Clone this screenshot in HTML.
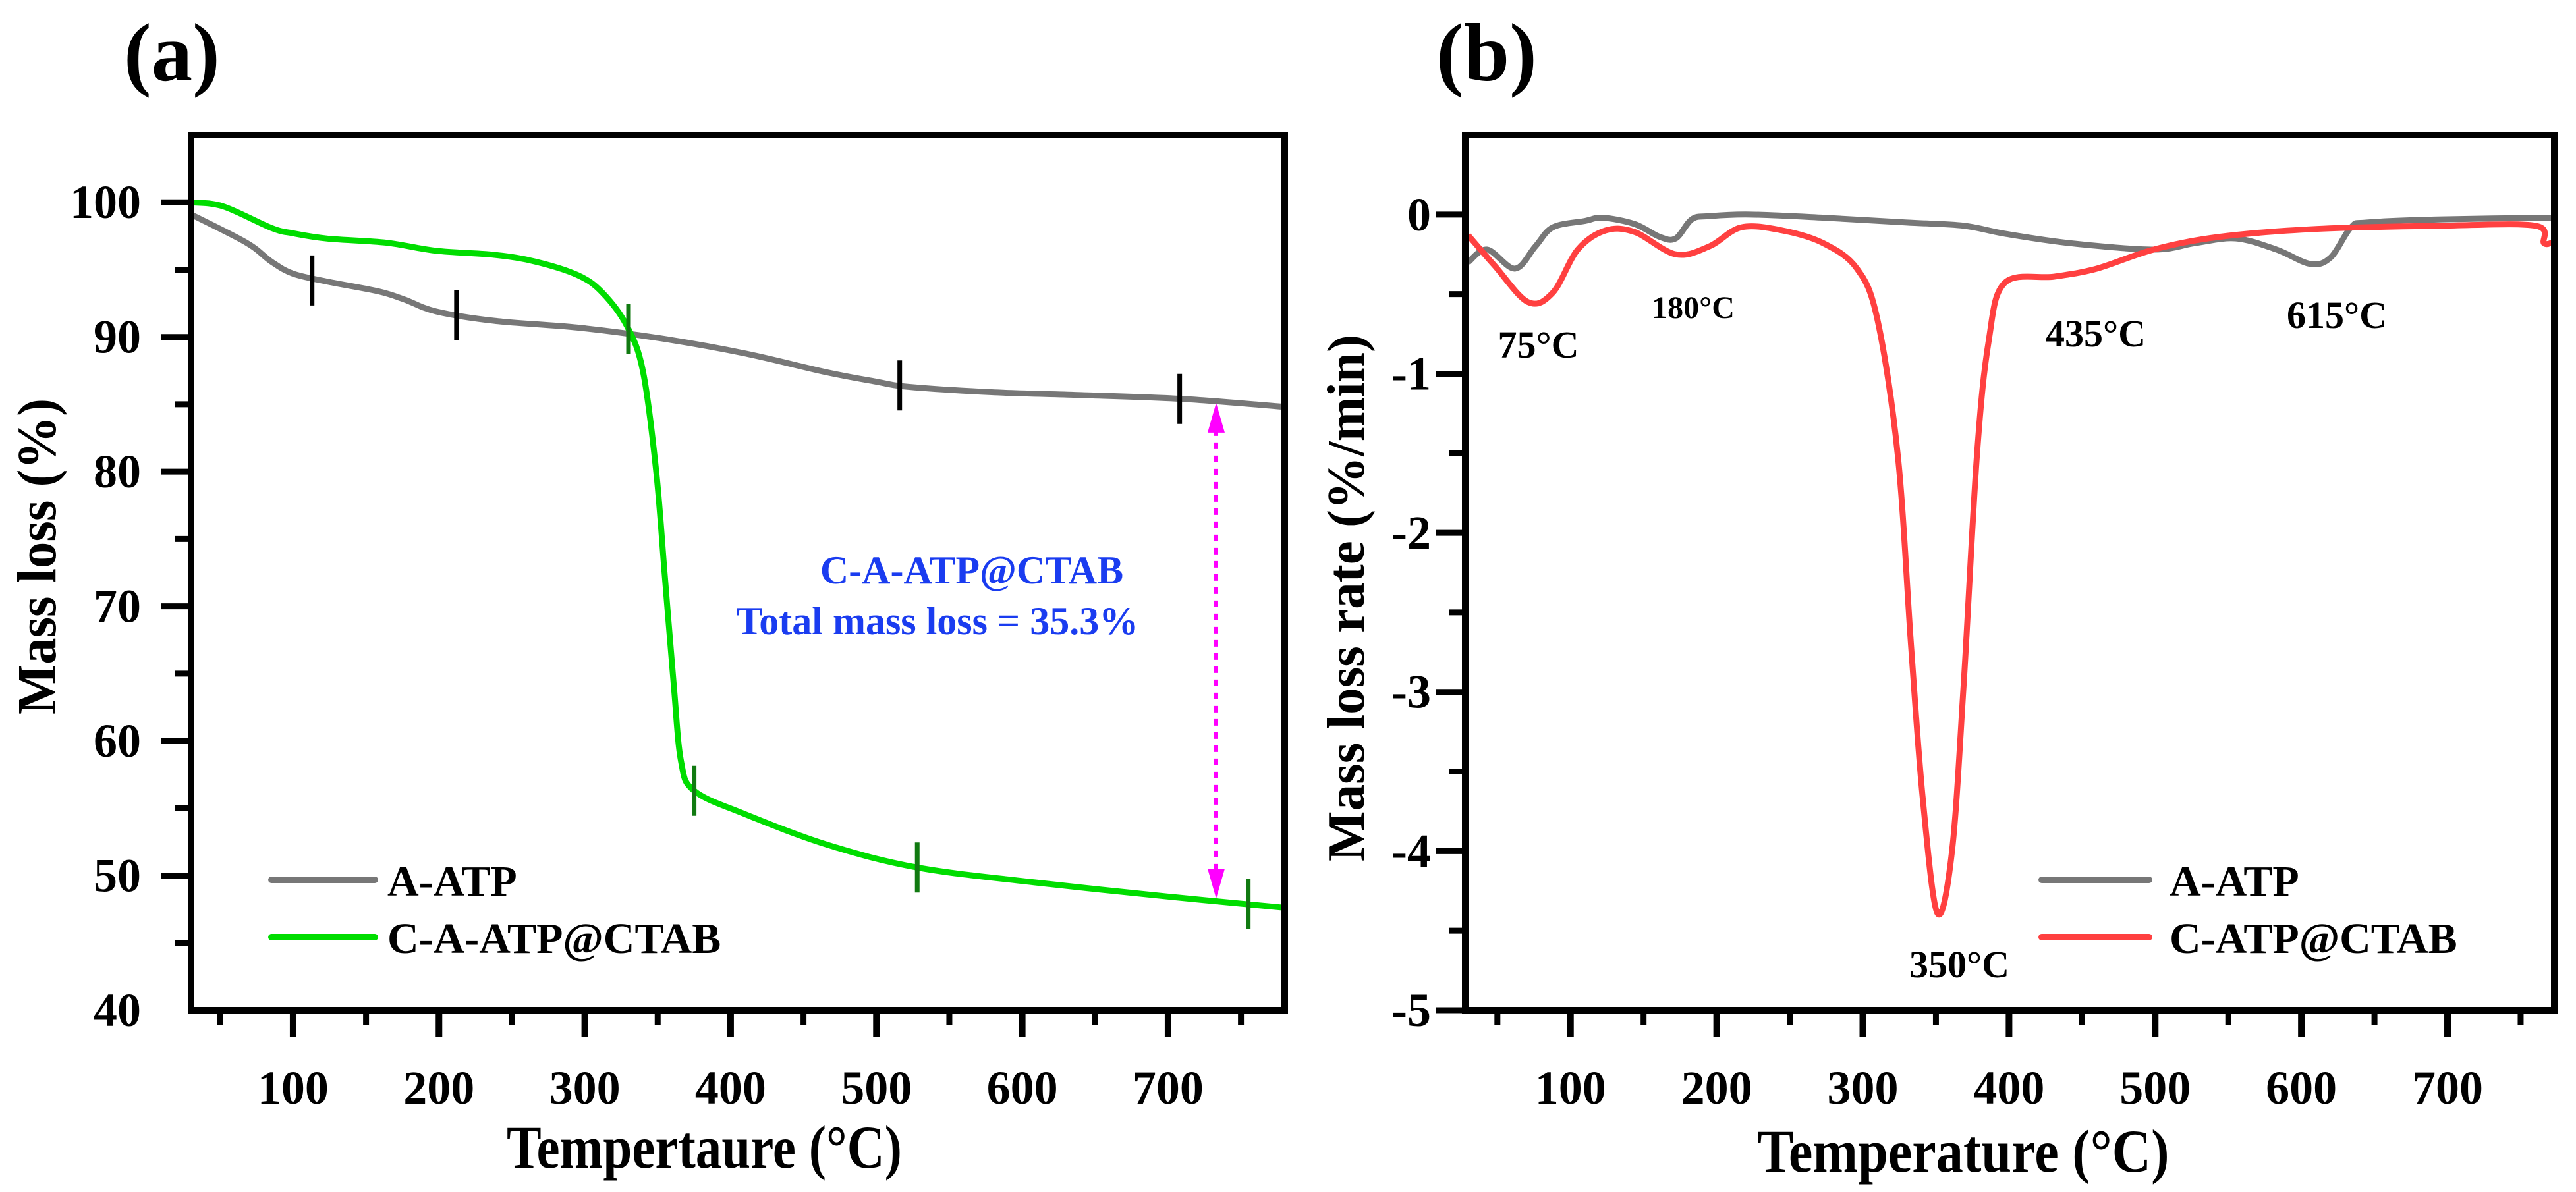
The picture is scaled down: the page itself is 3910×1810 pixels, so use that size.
<!DOCTYPE html>
<html><head><meta charset="utf-8"><style>
html,body{margin:0;padding:0;background:#fff;}
svg{display:block;font-family:"Liberation Serif",serif;font-weight:bold;}
</style></head><body>
<svg id="fig" width="3910" height="1810" viewBox="0 0 3910 1810" xmlns="http://www.w3.org/2000/svg">
<rect x="0" y="0" width="3910" height="1810" fill="#fff"/>
</svg>
<script>
// Panel (a) TGA data
const aTemp = [30,68,85,100,124,158,176,198,238,295,352,409,465,499,522,579,636,710,781];
const aMass = [99.1,97,95.6,94.7,94.1,93.4,92.8,91.9,91.2,90.7,89.9,88.8,87.4,86.7,86.3,85.9,85.7,85.4,84.8];
const cTemp = [30,52,85,100,124,164,198,238,266,295,312,329,340,349,355,361,366,375,409,466,528,608,704,781];
const cMass = [100,99.7,98.1,97.7,97.3,97.0,96.4,96.1,95.6,94.6,93.3,90.8,87.4,80,72.1,64.2,58.5,56.3,54.6,52.3,50.6,49.5,48.4,47.6];
const aMarkT = [113,212,516,708];
const aMarkV = [94.2,91.6,86.4,85.4];
const cMarkT = [330,375,528,755];
const cMarkV = [90.6,56.3,50.6,47.9];
const aXTicks = [100,200,300,400,500,600,700];
const aYTicks = [40,50,60,70,80,90,100];
// Panel (b) DTG data
const bTempA = [30,43,62,76,88,110,122,144,161,172,183,195,223,273,330,369,397,442,499,527,555,583,606,620,634,645,696,773];
const bRateA = [-0.3,-0.22,-0.34,-0.2,-0.08,-0.04,-0.02,-0.06,-0.14,-0.15,-0.03,-0.01,0,-0.02,-0.05,-0.07,-0.12,-0.18,-0.22,-0.18,-0.15,-0.22,-0.31,-0.27,-0.08,-0.05,-0.03,-0.02];
const bTempC = [30,48,71,88,105,124,144,172,195,217,245,273,296,310,324,333,341,351,361,369,378,386,397,431,460,499,544,611,696,760,766,773];
const bRateC = [-0.13,-0.32,-0.55,-0.49,-0.22,-0.1,-0.11,-0.25,-0.2,-0.08,-0.1,-0.18,-0.34,-0.66,-1.52,-2.71,-3.67,-4.39,-4.0,-2.95,-1.52,-0.8,-0.43,-0.39,-0.34,-0.22,-0.14,-0.09,-0.07,-0.07,-0.18,-0.17];
const bXTicks = [100,200,300,400,500,600,700];
const bYTicks = [-5,-4,-3,-2,-1,0];
const bYLabels = ["-5","-4","-3","-2","-1","0"];

const NS="http://www.w3.org/2000/svg";
const svg=document.getElementById('fig');
function mk(tag,attrs,parent){const e=document.createElementNS(NS,tag);for(const k in attrs)e.setAttribute(k,attrs[k]);(parent||svg).appendChild(e);return e;}
function txt(s,attrs,parent){const e=mk('text',attrs,parent);e.textContent=s;return e;}

const A={l:290,r:1950,t:205,b:1534,x0:30,x1:780,y0:40,y1:105};
const B={l:2224,r:3877,t:205,b:1534,x0:28,x1:773,y0:-5,y1:0.5};
function sx(P,v){return P.l+(v-P.x0)/(P.x1-P.x0)*(P.r-P.l);}
function sy(P,v){return P.b-(v-P.y0)/(P.y1-P.y0)*(P.b-P.t);}
function smoothPath(P,xs,ys){
  const pts=xs.map((x,i)=>[sx(P,x),sy(P,ys[i])]);
  let d='M'+pts[0][0]+','+pts[0][1];
  for(let i=0;i<pts.length-1;i++){
    const p0=pts[Math.max(0,i-1)],p1=pts[i],p2=pts[i+1],p3=pts[Math.min(pts.length-1,i+2)];
    const c1=[p1[0]+(p2[0]-p0[0])/6,p1[1]+(p2[1]-p0[1])/6];
    const c2=[p2[0]-(p3[0]-p1[0])/6,p2[1]-(p3[1]-p1[1])/6];
    d+=' C'+c1[0]+','+c1[1]+' '+c2[0]+','+c2[1]+' '+p2[0]+','+p2[1];
  }
  return d;
}

// ===== Panel A =====
const gA=mk('g',{});


const clipA=mk('clipPath',{id:'clipA'});mk('rect',{x:A.l,y:A.t,width:A.r-A.l,height:A.b-A.t},clipA);
const la=mk('path',{d:smoothPath(A,aTemp,aMass),fill:'none',stroke:'#777777','stroke-width':9,'stroke-linejoin':'round','clip-path':'url(#clipA)'},gA);


const lc=mk('path',{d:smoothPath(A,cTemp,cMass),fill:'none',stroke:'#00dd00','stroke-width':9,'stroke-linejoin':'round','clip-path':'url(#clipA)'},gA);


aMarkT.forEach((t,i)=>{
  const m=mk('line',{x1:sx(A,t),x2:sx(A,t),y1:sy(A,aMarkV[i])-38,y2:sy(A,aMarkV[i])+38,stroke:'#000','stroke-width':7},gA);
  
  
});
cMarkT.forEach((t,i)=>{
  const m=mk('line',{x1:sx(A,t),x2:sx(A,t),y1:sy(A,cMarkV[i])-38,y2:sy(A,cMarkV[i])+38,stroke:'#117a11','stroke-width':7},gA);
  
  
});
const arrT=733, arrTop=85.1, arrBot=48.3;
const arr=mk('line',{x1:sx(A,arrT),x2:sx(A,arrT),y1:sy(A,arrTop)+40,y2:sy(A,arrBot)-40,stroke:'#ff00ff','stroke-width':6,'stroke-dasharray':'10,10'},gA);


const ax=sx(A,arrT);
const ah1=mk('polygon',{points:`${ax},${sy(A,arrTop)} ${ax-13},${sy(A,arrTop)+45} ${ax+13},${sy(A,arrTop)+45}`,fill:'#ff00ff'},gA);


const ah2=mk('polygon',{points:`${ax},${sy(A,arrBot)} ${ax-13},${sy(A,arrBot)-45} ${ax+13},${sy(A,arrBot)-45}`,fill:'#ff00ff'},gA);


const an1=txt('C-A-ATP@CTAB',{x:1475,y:886,'text-anchor':'middle','font-size':60,fill:'#1a3cf0'},gA);


const an2=txt('Total mass loss = 35.3%',{x:1423,y:963,'text-anchor':'middle','font-size':60,fill:'#1a3cf0'},gA);


const fA=mk('rect',{x:A.l,y:A.t,width:A.r-A.l,height:A.b-A.t,fill:'none',stroke:'#000','stroke-width':10},gA);


for(let v=50;v<=750;v+=50){
  const maj=v%100===0;
  const t=mk('line',{x1:sx(A,v),x2:sx(A,v),y1:A.b,y2:A.b+(maj?40:22),stroke:'#000','stroke-width':maj?10:9},gA);
  
  
}
aXTicks.forEach(v=>{
  const t=txt(String(v),{x:sx(A,v),y:1676,'text-anchor':'middle','font-size':72},gA);
  
  
});
for(let v=45;v<=100;v+=5){
  const maj=v%10===0;
  const t=mk('line',{x1:A.l,x2:A.l-(maj?45:25),y1:sy(A,v),y2:sy(A,v),stroke:'#000','stroke-width':9},gA);
  
  
}
aYTicks.forEach(v=>{
  const t=txt(String(v),{x:214,y:sy(A,v)+24,'text-anchor':'end','font-size':72},gA);
  
  
});
const xtA=txt('Tempertaure (°C)',{x:1069,y:1773,'text-anchor':'middle','font-size':92,textLength:600,lengthAdjust:'spacingAndGlyphs'},gA);


const ytA=txt('Mass loss (%)',{x:0,y:0,'text-anchor':'middle','font-size':84,textLength:480,lengthAdjust:'spacingAndGlyphs',transform:'translate(84,845) rotate(-90)'},gA);


const pa=txt('(a)',{x:188,y:122,'font-size':125},gA);


const lg1=mk('line',{x1:412,x2:569,y1:1336,y2:1336,stroke:'#777777','stroke-width':10,'stroke-linecap':'round'},gA);


const lt1=txt('A-ATP',{x:588,y:1360,'font-size':66},gA);


const lg2=mk('line',{x1:412,x2:569,y1:1423,y2:1423,stroke:'#00dd00','stroke-width':10,'stroke-linecap':'round'},gA);


const lt2=txt('C-A-ATP@CTAB',{x:588,y:1447,'font-size':66},gA);



// ===== Panel B =====
const gB=mk('g',{});


const clipB=mk('clipPath',{id:'clipB'});mk('rect',{x:B.l,y:B.t,width:B.r-B.l,height:B.b-B.t},clipB);
const ba=mk('path',{d:smoothPath(B,bTempA,bRateA),fill:'none',stroke:'#777777','stroke-width':9,'stroke-linejoin':'round','clip-path':'url(#clipB)'},gB);


const bc=mk('path',{d:smoothPath(B,bTempC,bRateC),fill:'none',stroke:'#ff4040','stroke-width':9,'stroke-linejoin':'round','clip-path':'url(#clipB)'},gB);


const fB=mk('rect',{x:B.l,y:B.t,width:B.r-B.l,height:B.b-B.t,fill:'none',stroke:'#000','stroke-width':10},gB);


for(let v=50;v<=750;v+=50){
  const maj=v%100===0;
  const t=mk('line',{x1:sx(B,v),x2:sx(B,v),y1:B.b,y2:B.b+(maj?40:22),stroke:'#000','stroke-width':maj?10:9},gB);
  
  
}
bXTicks.forEach(v=>{
  const t=txt(String(v),{x:sx(B,v),y:1676,'text-anchor':'middle','font-size':72},gB);
  
  
});
for(let v=-5;v<=0.01;v+=0.5){
  const maj=Math.abs(v-Math.round(v))<0.01;
  const t=mk('line',{x1:B.l,x2:B.l-(maj?45:25),y1:sy(B,v),y2:sy(B,v),stroke:'#000','stroke-width':9},gB);
  
  
}
bYTicks.forEach((v,i)=>{
  const t=txt(bYLabels[i],{x:2172,y:sy(B,v)+24,'text-anchor':'end','font-size':72},gB);
  
  
});
const xtB=txt('Temperature (°C)',{x:2980,y:1779,'text-anchor':'middle','font-size':92,textLength:625,lengthAdjust:'spacingAndGlyphs'},gB);


const ytB=txt('Mass loss rate (%/min)',{x:0,y:0,'text-anchor':'middle','font-size':80,textLength:800,lengthAdjust:'spacingAndGlyphs',transform:'translate(2070,908) rotate(-90)'},gB);


const pb=txt('(b)',{x:2180,y:122,'font-size':125},gB);


const p1=txt('75°C',{x:2335,y:543,'text-anchor':'middle','font-size':58},gB);


const p2=txt('180°C',{x:2570,y:483,'text-anchor':'middle','font-size':48},gB);


const p3=txt('435°C',{x:3181,y:526,'text-anchor':'middle','font-size':58},gB);


const p4=txt('615°C',{x:3547,y:498,'text-anchor':'middle','font-size':58},gB);


const p5=txt('350°C',{x:2974,y:1484,'text-anchor':'middle','font-size':58},gB);


const lg3=mk('line',{x1:3099,x2:3262,y1:1336,y2:1336,stroke:'#777777','stroke-width':10,'stroke-linecap':'round'},gB);


const lt3=txt('A-ATP',{x:3293,y:1360,'font-size':66},gB);


const lg4=mk('line',{x1:3099,x2:3262,y1:1423,y2:1423,stroke:'#ff4040','stroke-width':10,'stroke-linecap':'round'},gB);


const lt4=txt('C-ATP@CTAB',{x:3293,y:1447,'font-size':66},gB);


</script>
</body></html>
